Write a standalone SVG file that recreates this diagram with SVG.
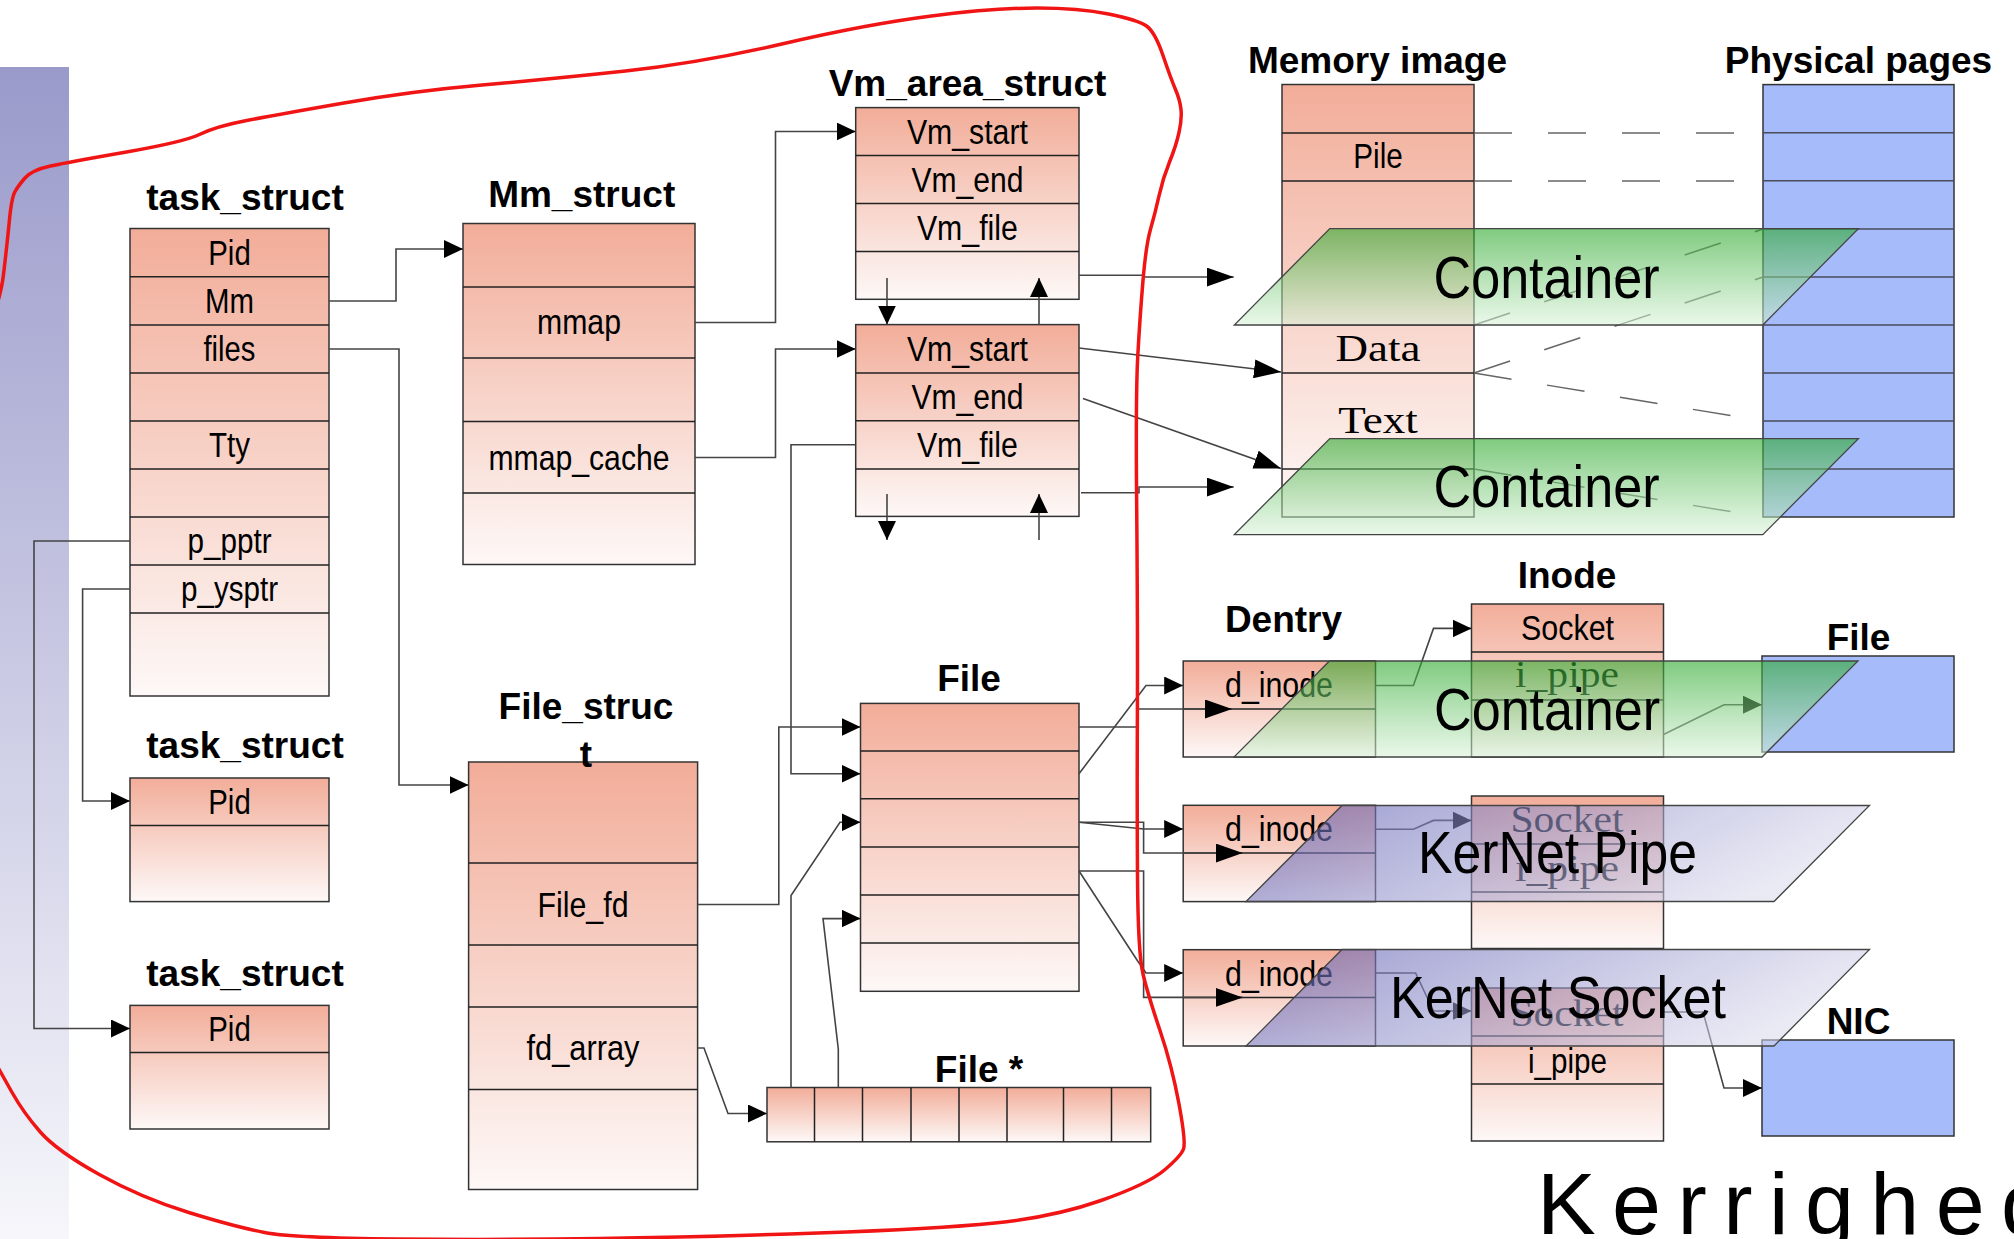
<svg xmlns="http://www.w3.org/2000/svg" width="2014" height="1239" viewBox="0 0 2014 1239">
<defs>
<linearGradient id="strip" x1="0" y1="0" x2="0" y2="1"><stop offset="0" stop-color="#9a9acb"/><stop offset="1" stop-color="#f6f6fb"/></linearGradient>
<linearGradient id="pink" x1="0" y1="0" x2="0" y2="1"><stop offset="0" stop-color="#f2ad99"/><stop offset="1" stop-color="#fdf8f7"/></linearGradient>
<linearGradient id="green" x1="0" y1="0" x2="0" y2="1"><stop offset="0" stop-color="#2aa82a" stop-opacity="0.6"/><stop offset="1" stop-color="#d8f2d8" stop-opacity="0.55"/></linearGradient>
<linearGradient id="kern" x1="0" y1="0" x2="1" y2="0.3"><stop offset="0" stop-color="#5a5ab1" stop-opacity="0.62"/><stop offset="1" stop-color="#d8d8ec" stop-opacity="0.55"/></linearGradient>
<marker id="a" markerUnits="userSpaceOnUse" markerWidth="19" markerHeight="18" refX="19" refY="9" orient="auto"><path d="M0,0 L19,9 L0,18 z" fill="#000"/></marker>
<marker id="b" markerUnits="userSpaceOnUse" markerWidth="27" markerHeight="19" refX="27" refY="9.5" orient="auto"><path d="M0,0 L27,9.5 L0,19 z" fill="#000"/></marker>
</defs>
<style>
.box{fill:url(#pink);stroke:#333;stroke-width:1.5}
.blue{fill:#a6bcfa;stroke:#333;stroke-width:1.5}
.sep{fill:none;stroke:#222;stroke-width:1.5}
.sepb{fill:none;stroke:#4a4a5a;stroke-width:1.5}
.t{font-family:"Liberation Sans",Arial,sans-serif;font-weight:bold;font-size:37px;text-anchor:middle;fill:#000}
.l{font-family:"Liberation Sans",Arial,sans-serif;font-size:35px;text-anchor:middle;fill:#000}
.s{font-family:"Liberation Serif","Times New Roman",serif;font-size:38px;text-anchor:middle;fill:#000}
.big{font-family:"Liberation Sans",Arial,sans-serif;font-size:60px;text-anchor:middle;fill:#000}
.c{fill:none;stroke:#444;stroke-width:1.6}
.ca{fill:none;stroke:#444;stroke-width:1.6;marker-end:url(#a)}
.cb{fill:none;stroke:#444;stroke-width:1.6;marker-end:url(#b)}
.dash{fill:none;stroke:#666;stroke-width:1.5;stroke-dasharray:38 36}
.gov{fill:url(#green);stroke:#444;stroke-width:1.3}
.kov{fill:url(#kern);stroke:#444;stroke-width:1.3}
.red{fill:none;stroke:#f01414;stroke-width:3.5;stroke-linejoin:round;stroke-linecap:round}
</style>

<rect id="side_strip" x="0" y="67" width="69" height="1172" fill="url(#strip)"/>

<g id="task_struct_1">
<text class="t" x="245" y="209.6">task_struct</text>
<rect class="box" x="130" y="228.5" width="199" height="467.5"/>
<path class="sep" d="M130,276.8H329M130,325H329M130,373H329M130,421H329M130,469H329M130,517H329M130,565H329M130,613H329"/>
<text class="l" x="229.5" y="265" textLength="42.5" lengthAdjust="spacingAndGlyphs">Pid</text>
<text class="l" x="229.5" y="313" textLength="49" lengthAdjust="spacingAndGlyphs">Mm</text>
<text class="l" x="229.5" y="361" textLength="52" lengthAdjust="spacingAndGlyphs">files</text>
<text class="l" x="229.5" y="457" textLength="41" lengthAdjust="spacingAndGlyphs">Tty</text>
<text class="l" x="229.5" y="553" textLength="84" lengthAdjust="spacingAndGlyphs">p_pptr</text>
<text class="l" x="229.5" y="601" textLength="97" lengthAdjust="spacingAndGlyphs">p_ysptr</text>
</g>

<g id="task_struct_2">
<text class="t" x="245" y="758">task_struct</text>
<rect class="box" x="130" y="778" width="199" height="123.6"/>
<path class="sep" d="M130,825.6H329"/>
<text class="l" x="229.5" y="814" textLength="42.5" lengthAdjust="spacingAndGlyphs">Pid</text>
</g>

<g id="task_struct_3">
<text class="t" x="245" y="986">task_struct</text>
<rect class="box" x="130" y="1005.4" width="199" height="123.6"/>
<path class="sep" d="M130,1052.6H329"/>
<text class="l" x="229.5" y="1041" textLength="42.5" lengthAdjust="spacingAndGlyphs">Pid</text>
</g>

<g id="mm_struct">
<text class="t" x="581.7" y="206.7">Mm_struct</text>
<rect class="box" x="463" y="223.5" width="232" height="341"/>
<path class="sep" d="M463,287H695M463,358H695M463,421.5H695M463,493H695"/>
<text class="l" x="579" y="334" textLength="84" lengthAdjust="spacingAndGlyphs">mmap</text>
<text class="l" x="579" y="470" textLength="181" lengthAdjust="spacingAndGlyphs">mmap_cache</text>
</g>

<g id="vm_area_struct_1">
<text class="t" x="967.5" y="95.7">Vm_area_struct</text>
<rect class="box" x="855.7" y="107.6" width="223.3" height="191.7"/>
<path class="sep" d="M855.7,155.4H1079M855.7,203.6H1079M855.7,251.5H1079"/>
<text class="l" x="967.4" y="143.5" textLength="121" lengthAdjust="spacingAndGlyphs">Vm_start</text>
<text class="l" x="967.4" y="191.5" textLength="112" lengthAdjust="spacingAndGlyphs">Vm_end</text>
<text class="l" x="967.4" y="239.5" textLength="101" lengthAdjust="spacingAndGlyphs">Vm_file</text>
</g>

<g id="vm_area_struct_2">
<rect class="box" x="855.7" y="324.6" width="223.3" height="191.8"/>
<path class="sep" d="M855.7,372.9H1079M855.7,420.7H1079M855.7,469H1079"/>
<text class="l" x="967.4" y="360.7" textLength="121" lengthAdjust="spacingAndGlyphs">Vm_start</text>
<text class="l" x="967.4" y="409" textLength="112" lengthAdjust="spacingAndGlyphs">Vm_end</text>
<text class="l" x="967.4" y="457" textLength="101" lengthAdjust="spacingAndGlyphs">Vm_file</text>
</g>

<g id="file_struct">
<text class="t" x="586" y="719.4">File_struc</text>
<rect class="box" x="468.6" y="762" width="229" height="427.5"/>
<path class="sep" d="M468.6,863H697.6M468.6,945H697.6M468.6,1007H697.6M468.6,1089.4H697.6"/>
<text class="t" x="586" y="766.6">t</text>
<text class="l" x="583" y="917" textLength="91" lengthAdjust="spacingAndGlyphs">File_fd</text>
<text class="l" x="583" y="1060" textLength="113" lengthAdjust="spacingAndGlyphs">fd_array</text>
</g>

<g id="file">
<text class="t" x="969" y="691">File</text>
<rect class="box" x="860.5" y="703.4" width="218.5" height="287.9"/>
<path class="sep" d="M860.5,751H1079M860.5,798.7H1079M860.5,846.9H1079M860.5,895H1079M860.5,943H1079"/>
</g>

<g id="file_ptr_array">
<text class="t" x="979" y="1082">File *</text>
<rect class="box" x="767" y="1087.5" width="383.7" height="54.3"/>
<path class="sep" d="M814.5,1087.5V1141.8M862.5,1087.5V1141.8M911,1087.5V1141.8M959,1087.5V1141.8M1007,1087.5V1141.8M1063.5,1087.5V1141.8M1111.5,1087.5V1141.8"/>
</g>

<g id="memory_image">
<text class="t" x="1377.5" y="73">Memory image</text>
<rect class="box" x="1282" y="84.5" width="192" height="432.5"/>
<path class="sep" d="M1282,133H1474M1282,181H1474M1282,325H1474M1282,373H1474M1282,469H1474"/>
<text class="l" x="1378" y="168" textLength="49.5" lengthAdjust="spacingAndGlyphs">Pile</text>
<text class="s" x="1378" y="361" textLength="85" lengthAdjust="spacingAndGlyphs">Data</text>
<text class="s" x="1378" y="433" textLength="79.5" lengthAdjust="spacingAndGlyphs">Text</text>
</g>

<g id="physical_pages">
<text class="t" x="1858.5" y="73">Physical pages</text>
<rect class="blue" x="1763" y="84.6" width="191" height="432.4"/>
<path class="sepb" d="M1763,132.7H1954M1763,180.8H1954M1763,228.9H1954M1763,277H1954M1763,325H1954M1763,373H1954M1763,421H1954M1763,469H1954"/>
</g>

<g id="page_mapping">
<path class="dash" d="M1474,133H1763M1474,181H1763"/>
<path class="dash" d="M1474,325L1763,229M1474,373L1763,277M1474,373L1763,421M1474,469L1763,517"/>
</g>

<g id="dentry">
<text class="t" x="1283.5" y="632">Dentry</text>
<rect class="box" x="1183.2" y="661" width="192.3" height="96"/>
<rect class="box" x="1183.2" y="805.3" width="192.3" height="96.3"/>
<rect class="box" x="1183.2" y="949.7" width="192.3" height="96.3"/>
<path class="sep" d="M1183.2,709H1375.5M1183.2,853H1375.5M1183.2,997.4H1375.5"/>
<text class="l" x="1279" y="697" textLength="108" lengthAdjust="spacingAndGlyphs">d_inode</text>
<text class="l" x="1279" y="841" textLength="108" lengthAdjust="spacingAndGlyphs">d_inode</text>
<text class="l" x="1279" y="985.5" textLength="108" lengthAdjust="spacingAndGlyphs">d_inode</text>
</g>

<g id="inode">
<text class="t" x="1567" y="588">Inode</text>
<rect class="box" x="1471.5" y="604" width="192" height="153"/>
<rect class="box" x="1471.5" y="796" width="192" height="152.5"/>
<rect class="box" x="1471.5" y="988" width="192" height="153"/>
<path class="sep" d="M1471.5,652H1663.5M1471.5,700H1663.5M1471.5,844H1663.5M1471.5,892H1663.5M1471.5,1036H1663.5M1471.5,1084H1663.5"/>
<text class="l" x="1567.5" y="640" textLength="93" lengthAdjust="spacingAndGlyphs">Socket</text>
<text class="s" x="1567" y="687" textLength="104" lengthAdjust="spacingAndGlyphs">i_pipe</text>
<text class="s" x="1567" y="832" textLength="113" lengthAdjust="spacingAndGlyphs">Socket</text>
<text class="s" x="1567" y="881" textLength="104" lengthAdjust="spacingAndGlyphs">i_pipe</text>
<text class="s" x="1567" y="1026" textLength="113" lengthAdjust="spacingAndGlyphs">Socket</text>
<text class="l" x="1567.5" y="1073" textLength="79" lengthAdjust="spacingAndGlyphs">i_pipe</text>
</g>

<g id="file_device">
<text class="t" x="1858.5" y="650">File</text>
<rect class="blue" x="1762" y="656" width="192" height="96"/>
</g>

<g id="nic">
<text class="t" x="1858.5" y="1034">NIC</text>
<rect class="blue" x="1762" y="1040" width="192" height="96"/>
</g>

<g id="connectors">
<path class="ca" d="M329,301H396V249H463"/>
<path class="ca" d="M329,349H399V785H468.6"/>
<path class="ca" d="M130,541H34V1028.5H130"/>
<path class="ca" d="M130,589H82.6V801H130"/>
<path class="ca" d="M695,322.5H775.5V131.5H855.7"/>
<path class="ca" d="M695,457.5H775.5V349H855.7"/>
<path class="ca" d="M887,278V324.6"/>
<path class="ca" d="M1039,324.6V278"/>
<path class="ca" d="M887,494V540"/>
<path class="ca" d="M1039,540V494"/>
<path class="ca" d="M855.7,444.8H791V773.7H860.5"/>
<path class="ca" d="M697.6,904.5H778.8V727H860.5"/>
<path class="ca" d="M697.6,1048H704L728,1113.5H767"/>
<path class="ca" d="M791,1087.5V895.5L840,822.3H860.5"/>
<path class="ca" d="M838.3,1087.5V1049L823,918.6H860.5"/>
<path class="ca" d="M1079,773.7L1146,685.5H1183.2"/>
<path class="ca" d="M1079,822.3L1143.6,829H1183.2"/>
<path class="ca" d="M1079,871L1137,960L1146,973H1183.2"/>
<path class="ca" d="M1375.5,685.5H1413.4L1433.5,628.4H1471.5"/>
<path class="ca" d="M1375.5,829.3H1413.4L1433.5,820.4H1471.5"/>
<path class="ca" d="M1375.5,973H1415.6L1433.5,1011H1471.5"/>
<path class="ca" d="M1663.5,734.5L1724,704.7H1762"/>
<path class="ca" d="M1663.5,1012H1703L1724,1088H1762"/>
<path class="cb" d="M1079,275.2H1143V277H1233.7"/>
<path class="cb" d="M1079,348L1281,372"/>
<path class="cb" d="M1083,398.6L1281,468.6"/>
<path class="cb" d="M1081,492.7H1139V487H1233.7"/>
<path class="cb" d="M1079,727H1138V709H1232"/>
<path class="cb" d="M1079,822.3H1143.6V853H1242.7"/>
<path class="cb" d="M1079,871H1143.6V997.4H1242.7"/>
</g>

<g id="container_1">
<polygon class="gov" points="1329.8,228.6 1858.4,228.6 1762.8,325 1234.3,325"/>
<text class="big" x="1546.5" y="298" textLength="226" lengthAdjust="spacingAndGlyphs">Container</text>
</g>
<g id="container_2">
<polygon class="gov" points="1329.8,438.6 1858.4,438.6 1762.8,534.6 1234.3,534.6"/>
<text class="big" x="1546.5" y="507" textLength="226" lengthAdjust="spacingAndGlyphs">Container</text>
</g>
<g id="container_3">
<polygon class="gov" points="1329.5,661 1858,661 1762,757 1234,757"/>
<text class="big" x="1547" y="729.7" textLength="226" lengthAdjust="spacingAndGlyphs">Container</text>
</g>
<g id="kernet_pipe">
<polygon class="kov" points="1342,805.5 1869.5,805.5 1774,901.5 1246,901.5"/>
<text class="big" x="1557.5" y="872.6" textLength="279" lengthAdjust="spacingAndGlyphs">KerNet Pipe</text>
</g>
<g id="kernet_socket">
<polygon class="kov" points="1342,949.5 1869.5,949.5 1774,1046 1246,1046"/>
<text class="big" x="1558" y="1017.7" textLength="336" lengthAdjust="spacingAndGlyphs">KerNet Socket</text>
</g>

<path id="red_outline" class="red" d="M-40,1000 L-20,1035.5 Q0,1071 11.8,1092 Q23.6,1113 40.3,1132 Q57,1151 99.3,1174.5 Q141.6,1198 188.8,1212.5 Q236,1227 264.5,1232.5 Q293,1238 396.5,1239 Q500,1240 600,1238.5 Q700,1237 818,1233 Q936,1229 995,1223 Q1054,1217 1101,1200.5 Q1148,1184 1164.5,1170 Q1181,1156 1183.5,1149 Q1186,1142 1179,1104 Q1172,1066 1160,1030.5 Q1148,995 1143,974 Q1138,953 1137.5,876.5 Q1137,800 1137.4,710 Q1137.7,620 1136.7,507.5 Q1135.6,395 1137.8,355.5 Q1140,316 1143,280.5 Q1146,245 1150.5,229.3 Q1155,213.5 1159,195.8 Q1163,178 1169.5,162 Q1176,146 1179,132.5 Q1182,119 1181,109.5 Q1180,100 1175.5,89.5 Q1171,79 1163,55.5 Q1155,32 1146.5,26 Q1138,20 1108.5,14 Q1079,8 1037,8 Q995,8 931.5,16 Q868,24 784,43.5 Q700,63 625.5,71 Q551,79 482,85 Q413,91 344,103 Q275,115 245.5,120.8 Q216,126.5 200,134.3 Q184,142 126.5,152 Q69,162 50.5,166 Q32,170 25,178 Q18,186 14.8,192 Q11.5,198 9.3,221.5 Q7,245 3.5,274.5 Q0,304 -20,352 L-40,400"/>

<text id="logo" x="1537" y="1234" font-family="Liberation Sans, Arial, sans-serif" font-size="88" textLength="513" lengthAdjust="spacing" fill="#000">Kerrighed</text>
</svg>
